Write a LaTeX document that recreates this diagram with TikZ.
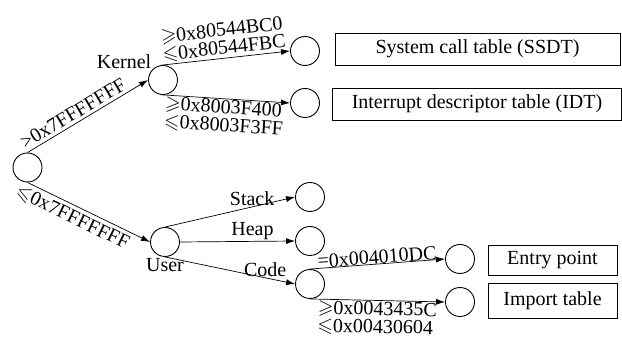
\documentclass[tikz,border=0pt]{standalone}
\usepackage{amssymb}
\usepackage{fontspec}
\setmainfont{Liberation Serif}
\usetikzlibrary{arrows.meta}

\tikzset{
	state/.style={circle, draw, line width=0.9pt, minimum size=29pt, inner sep=0pt},
	tablebox/.style={draw, rectangle, line width=0.9pt, inner sep=0pt},
	link/.style={-{Latex[length=9pt,width=6pt]}, line width=0.7pt}
}

\begin{document}
\begin{tikzpicture}[x=1pt, y=-1pt, font=\fontsize{20}{18}\selectfont]
		\useasboundingbox (0,0) rectangle (622,347);
		
		% tree nodes
		\node[state] (root) at (27.5,167.5) {};
		\node[state] (kernel) at (163,80) {};
		\node[state] (user) at (165,242) {};
		\node[state] (ssdt) at (305,51) {};
		\node[state] (idt) at (305,103) {};
		\node[state] (stack) at (310,197) {};
		\node[state] (heap) at (310,241) {};
		\node[state] (code) at (310,284) {};
		\node[state] (entry) at (460,259) {};
		\node[state] (import) at (460,302) {};
		
		\node[anchor=south east, inner sep=1pt] (kernellbl) at (kernel.north west) {Kernel};
		\node[below=-2pt] (userlbl) at (user.south) {User};
		
		% tables
		\node[tablebox, minimum width=285pt, minimum height=32pt] (ssdtbox) at (477.5,49) {System call table (SSDT)};
		\node[tablebox, minimum width=289pt, minimum height=32pt] (idtbox) at (477,104) {Interrupt descriptor table (IDT)};
		\node[tablebox, minimum width=129pt, minimum height=30pt] (entrybox) at (552.5,260) {Entry point};
		\node[tablebox, minimum width=129pt, minimum height=35pt] (importbox) at (552.5,300.5) {Import table};
		
		% edges
		\draw[link] (root.north) -- node[sloped, above, pos=0.42, inner sep=3pt] (klbl) {>0x7FFFFFFF} (kernel.west);
		\draw[link] (root.south) -- node[sloped, below, pos=0.41, inner sep=4pt] (ulbl) {$\leqslant$0x7FFFFFFF} (user.west);
		
		\draw[link] (kernel.100) -- node[sloped, above, align=left, inner sep=1pt] (ssdtlbl) {$\geqslant$0x80544BC0\\$\leqslant$0x80544FBC} (ssdt.west);
		\draw[link] (kernel.260) -- node[sloped, below, align=left, inner sep=1pt] (idtlbl) {$\geqslant$0x8003F400\\$\leqslant$0x8003F3FF} (idt.west);
		
		\draw[link] (user.north) -- node[above, pos=0.67, inner sep=1pt] (stacklbl) {Stack} (stack.west);
		\draw[link] (user.east) -- node[above, pos=0.63, inner sep=1pt] (heaplbl) {Heap} (heap.west);
		\draw[link] (user.south) -- node[above, pos=0.77, inner sep=1pt] (codelbl) {Code} (code.west);
		
		\draw[link] (code.north) -- node[sloped, above, inner sep=0pt] (entrylbl) {=0x004010DC} (entry.west);
		\draw[link] (code.south) -- node[sloped, below, align=left, inner sep=1pt] (importlbl) {$\geqslant$0x0043435C\\$\leqslant$0x00430604} (import.west);
	\end{tikzpicture}
\end{document}
